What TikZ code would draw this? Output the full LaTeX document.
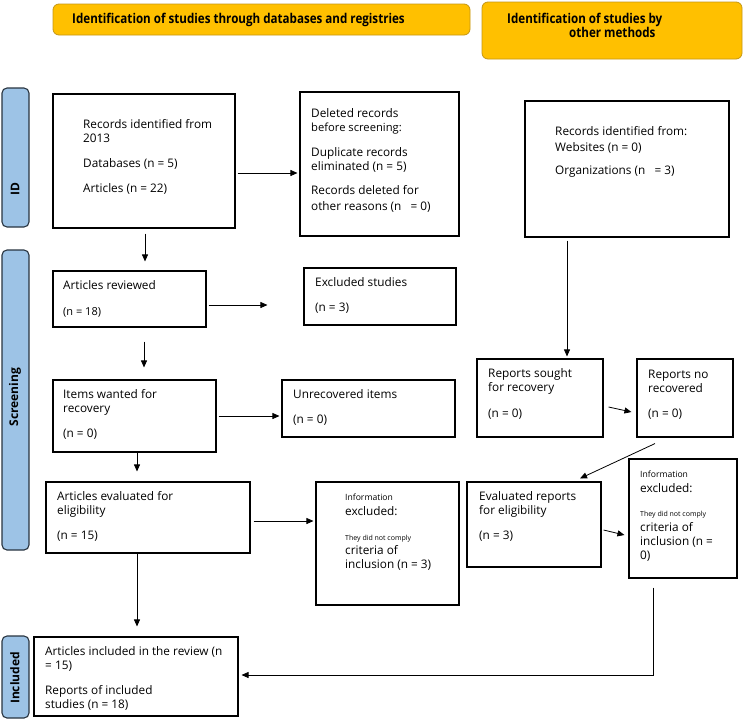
\documentclass[tikz,border=0pt]{standalone}
\usepackage{fontspec}
\setmainfont{Open Sans}
\newfontfamily\headfont[FakeStretch=0.86]{Open Sans}
\usetikzlibrary{arrows.meta,fit,calc}
\definecolor{hdrfill}{RGB}{255,192,0}
\definecolor{hdrline}{RGB}{196,150,20}
\definecolor{sidefill}{RGB}{157,195,230}
\definecolor{sideline}{RGB}{40,52,64}
\newcommand{\fl}{\rule{0pt}{10pt}}
\begin{document}
\begin{tikzpicture}[x=1pt,y=-1pt,
  box/.style={draw, line width=1.1pt, inner sep=0pt},
  hdr/.style={draw=hdrline, fill=hdrfill, rounded corners=6pt, line width=0.8pt, inner sep=0pt},
  hdrtxt/.style={anchor=base west, inner sep=0pt, font=\headfont\bfseries\fontsize{13.5}{15}\selectfont},
  side/.style={draw=sideline, fill=sidefill, rounded corners=5pt, line width=1.1pt, inner sep=0pt},
  sidetxt/.style={rotate=90, inner sep=0pt, font=\bfseries\fontsize{12}{14}\selectfont},
  txt/.style={anchor=north west, align=left, inner sep=0pt, font=\fontsize{11.8}{14}\selectfont},
  smalltxt/.style={anchor=base west, align=left, inner sep=0pt, font=\fontsize{8.6}{10}\selectfont},
  tinytxt/.style={anchor=base west, align=left, inner sep=0pt, font=\fontsize{7}{8}\selectfont},
  arr/.style={-{Triangle[length=7pt,width=6pt]}, line width=0.8pt}]
\useasboundingbox (0,0) rectangle (743,720);

% headers
\node[hdr, fit={(53,4)(470,35)}] (h1) {};
\node[hdrtxt] (h1t) at (72,23) {Identification of studies through databases and registries};
\node[hdr, fit={(482,2)(742,59)}] (h2) {};
\node[hdrtxt] (h2t) at (507,23) {Identification of studies by};
\node[hdrtxt] (h2u) at (569,37) {other methods};

% side bars
\node[side, fit={(2,88)(29,227)}] (s1) {};
\node[sidetxt] (s1t) at (15,189) {ID};
\node[side, fit={(2,250)(29,550)}] (s2) {};
\node[sidetxt] (s2t) at (15,397) {Screening};
\node[side, fit={(2,636)(29,718)}] (s3) {};
\node[sidetxt] (s3t) at (15,678) {Included};

% boxes (text node y = first baseline - 10)
\node[box, fit={(53,94)(235,228)}] (b1) {};
\node[txt] (t1) at (83,118) {\fl Records identified from\\2013\\[11pt]Databases (n = 5)\\[11pt]Articles (n = 22)};

\node[box, fit={(300,92)(459,236)}] (b2) {};
\node[txt] (t2) at (311,107) {\fl Deleted records\\{\fontsize{11.2}{14}\selectfont before screening:}\\[11pt]Duplicate records\\eliminated (n = 5)\\[10pt]Records deleted for\\[2pt]other reasons (n \ \ = 0)};

\node[box, fit={(525,101)(729,237)}] (b3) {};
\node[txt] (t3) at (555,125) {\fl Records identified from:\\[2pt]Websites (n = 0)\\[9pt]Organizations (n \ \ = 3)};

\node[box, fit={(53,271)(206,327)}] (b4) {};
\node[txt] (t4) at (63,279) {\fl Articles reviewed\\[12pt]{\fontsize{11}{14}\selectfont(n = 18)}};

\node[box, fit={(304,268)(456,325)}] (b5) {};
\node[txt] (t5) at (315,276) {\fl Excluded studies\\[11pt](n = 3)};

\node[box, fit={(53,380)(216,452)}] (b6) {};
\node[txt] (t6) at (63,388) {\fl Items wanted for\\recovery\\[11pt](n = 0)};

\node[box, fit={(282,380)(455,437)}] (b7) {};
\node[txt] (t7) at (293,388) {\fl Unrecovered items\\[11pt](n = 0)};

\node[box, fit={(46,482)(250,553)}] (b8) {};
\node[txt] (t8) at (57,490) {\fl Articles evaluated for\\eligibility\\[11pt](n = 15)};

\node[box, fit={(316,482)(459,605)}] (b9) {};
\node[smalltxt] (t9a) at (345,500) {Information};
\node[txt] (t9b) at (345,505) {\fl excluded:};
\node[tinytxt] (t9c) at (345,540) {They did not comply};
\node[txt] (t9d) at (345,544) {\fl criteria of\\inclusion (n = 3)};

\node[box, fit={(34,637)(238,716)}] (b10) {};
\node[txt] (t10) at (45,645) {\fl Articles included in the review (n\\= 15)\\[11pt]Reports of included\\studies (n = 18)};

\node[box, fit={(477,359)(603,437)}] (b11) {};
\node[txt] (t11) at (488,367) {\fl Reports sought\\for recovery\\[12pt](n = 0)};

\node[box, fit={(637,359)(733,437)}] (b12) {};
\node[txt] (t12) at (648,368) {\fl Reports no\\recovered\\[11pt](n = 0)};

\node[box, fit={(467,482)(601,567)}] (b13) {};
\node[txt] (t13) at (479,490) {\fl Evaluated reports\\for eligibility\\[11pt](n = 3)};

\node[box, fit={(629,459)(737,578)}] (b14) {};
\node[smalltxt] (t14a) at (640,477) {Information};
\node[txt] (t14b) at (640,482) {\fl excluded:};
\node[tinytxt] (t14c) at (640,516) {They did not comply};
\node[txt] (t14d) at (640,521) {\fl criteria of\\inclusion (n =\\0)};

% connectors
\draw[arr, shorten <=2pt, shorten >=2pt] (b1.east |- 0,173) -- (b2.west |- 0,173);
\draw[arr, shorten <=5pt, shorten >=9pt] (b1.south -| 145,0) -- (b4.north -| 145,0);
\draw[arr, shorten <=2pt, shorten >=36pt] (b4.east |- 0,305) -- (b5.west |- 0,305);
\draw[arr, shorten <=14pt, shorten >=12pt] (b4.south -| 144,0) -- (b6.north -| 144,0);
\draw[arr, shorten <=2pt, shorten >=2pt] (b6.east |- 0,416) -- (b7.west |- 0,416);
\draw[arr, shorten >=10pt] (b6.south -| 137,0) -- (b8.north -| 137,0);
\draw[arr, shorten <=3pt, shorten >=2pt] (b8.east |- 0,521) -- (b9.west |- 0,521);
\draw[arr, shorten >=10pt] (b8.south -| 137,0) -- (b10.north -| 137,0);
\draw[arr, shorten <=3pt, shorten >=2pt] (b3.south -| 567,0) -- (b11.north -| 567,0);
\draw[arr] ($(b11.east |- 0,407)+(5,0)$) -- ($(b12.west |- 0,412)+(-5,0)$);
\draw[arr] ($(b12.south -| 655,0)+(0,6)$) -- ($(b13.north -| 580,0)+(0,-3)$);
\draw[arr] ($(b13.east |- 0,530)+(2,0)$) -- ($(b14.west |- 0,535)+(-4,0)$);
\draw[arr] ($(b14.south -| 653,0)+(0,9)$) |- ($(b10.east |- 0,675)+(3,0)$);
\end{tikzpicture}
\end{document}
